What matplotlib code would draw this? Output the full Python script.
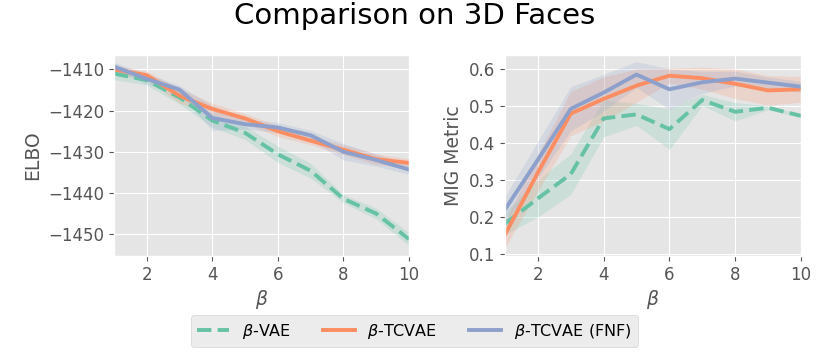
import matplotlib
matplotlib.use("Agg")
import matplotlib.pyplot as plt
import numpy as np

plt.style.use("ggplot")

betas = [1, 2, 3, 4, 5, 6, 7, 8, 9, 10]
labels = [r"$\beta$-VAE", r"$\beta$-TCVAE", r"$\beta$-TCVAE (FNF)"]
colors = ["#66c2a5", "#fc8d62", "#8da0cb"]
styles = ["--", "-", "-"]

elbo_mean = [
    [-1411.0, -1412.6, -1416.8, -1422.4, -1425.4, -1430.6, -1434.6, -1441.4, -1445.0, -1451.2],
    [-1410.0, -1411.4, -1416.4, -1419.6, -1421.9, -1425.0, -1427.3, -1429.5, -1431.8, -1432.7],
    [-1409.3, -1412.3, -1414.9, -1421.8, -1423.3, -1424.1, -1426.0, -1430.0, -1432.0, -1434.3],
]
elbo_std = [
    [1.5, 1.2, 1.6, 1.6, 1.6, 2.0, 1.8, 1.0, 1.3, 1.6],
    [1.0, 1.0, 1.8, 1.4, 1.2, 1.3, 1.0, 1.2, 1.3, 1.0],
    [1.0, 1.2, 1.0, 3.0, 1.2, 1.2, 1.2, 2.0, 1.5, 1.2],
]
mig_mean = [
    [0.182, 0.250, 0.316, 0.467, 0.478, 0.438, 0.517, 0.485, 0.496, 0.474],
    [0.152, 0.320, 0.480, 0.520, 0.556, 0.583, 0.576, 0.561, 0.543, 0.546],
    [0.220, 0.355, 0.493, 0.537, 0.586, 0.546, 0.565, 0.575, 0.564, 0.553],
]
mig_std = [
    [0.030, 0.050, 0.055, 0.050, 0.030, 0.055, 0.015, 0.025, 0.005, 0.005],
    [0.035, 0.050, 0.060, 0.060, 0.045, 0.020, 0.030, 0.040, 0.040, 0.035],
    [0.035, 0.050, 0.060, 0.050, 0.035, 0.055, 0.030, 0.020, 0.015, 0.015],
]

fig = plt.figure(figsize=(8.3, 3.56), dpi=100)
fig.patch.set_facecolor("white")
ax1 = fig.add_axes([0.1373, 0.2809, 0.3554, 0.5646])
ax2 = fig.add_axes([0.6084, 0.2809, 0.3566, 0.5646])

x = np.array(betas)
handles = []
for i in range(3):
    m, s = np.array(elbo_mean[i]), np.array(elbo_std[i])
    (h,) = ax1.plot(x, m, styles[i], color=colors[i], lw=2.8, label=labels[i])
    ax1.fill_between(x, m - s, m + s, color=colors[i], alpha=0.2, lw=0)
    handles.append(h)
    m, s = np.array(mig_mean[i]), np.array(mig_std[i])
    ax2.plot(x, m, styles[i], color=colors[i], lw=2.8)
    ax2.fill_between(x, m - s, m + s, color=colors[i], alpha=0.2, lw=0)

ax1.set_xlim(1, 10)
ax1.set_ylim(-1455.3, -1406.5)
ax1.set_yticks([-1410, -1420, -1430, -1440, -1450])
ax1.set_ylabel("ELBO", fontsize=13.5, color="#555555")
ax2.set_xlim(1, 10)
ax2.set_ylim(0.094, 0.639)
ax2.set_yticks([0.1, 0.2, 0.3, 0.4, 0.5, 0.6])
ax2.set_ylabel("MIG Metric", fontsize=13.5, color="#555555")
for ax in (ax1, ax2):
    ax.set_xticks([2, 4, 6, 8, 10])
    ax.set_xlabel(r"$\beta$", fontsize=13.5, color="#555555", labelpad=3)
    ax.tick_params(labelsize=12, colors="#555555")

fig.suptitle("Comparison on 3D Faces", fontsize=21, y=0.995)
leg = fig.legend(handles=handles, loc="center", bbox_to_anchor=(0.499, 0.07),
                 ncol=3, fontsize=11.5, frameon=True)
leg.get_frame().set_facecolor("#e8e8e8")
leg.get_frame().set_edgecolor("#cccccc")

fig.savefig("out.png", dpi=100)
